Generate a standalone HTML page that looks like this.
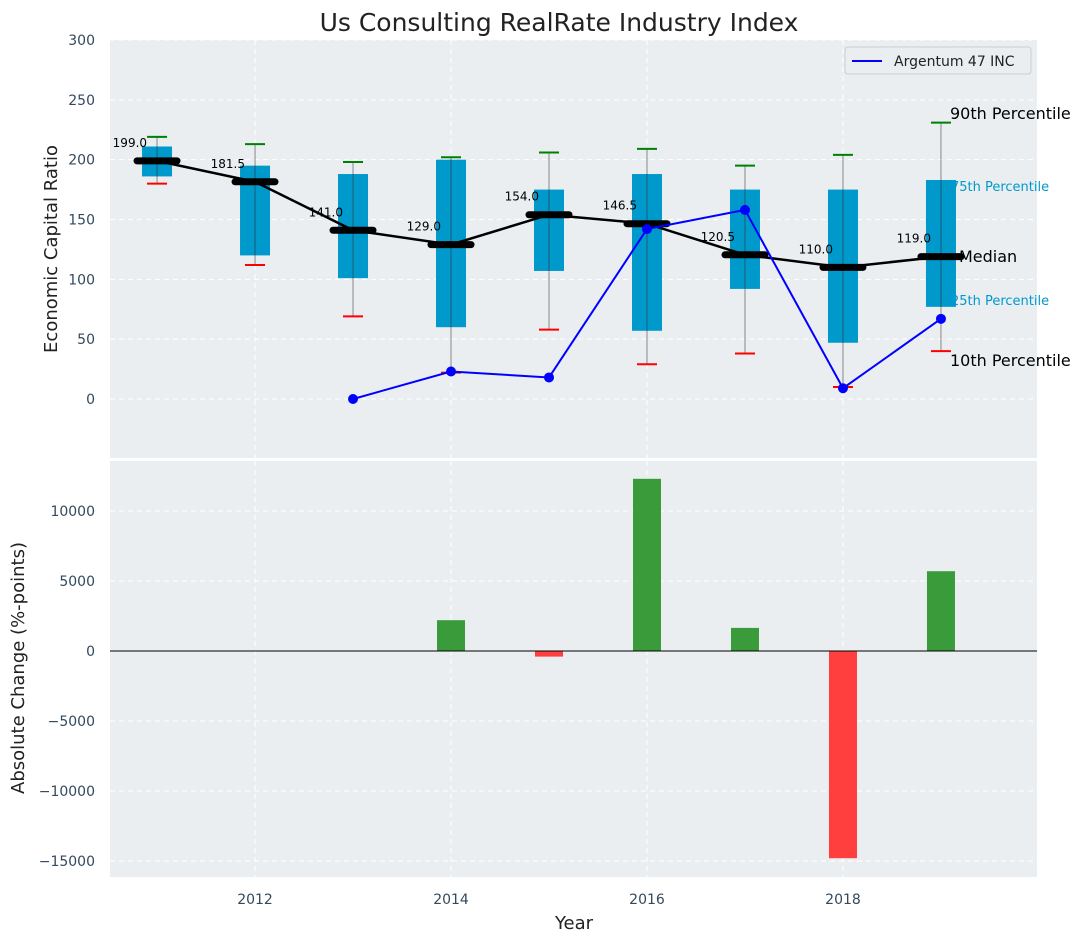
<!DOCTYPE html>
<html><head><meta charset="utf-8"><style>
body{margin:0;background:#fff;font-family:"Liberation Sans","DejaVu Sans",sans-serif;}
svg text{font-family:"DejaVu Sans","Liberation Sans",sans-serif;}
</style></head><body>
<svg id="c" width="1086" height="942" xmlns="http://www.w3.org/2000/svg"></svg>
<script>
const years=[2011,2012,2013,2014,2015,2016,2017,2018,2019];
const medians=[199,181.5,141,129,154,146.5,120.5,110,119];
const q1=[186,120,101,60,107,57,92,47,77];
const q3=[211,195,188,200,175,188,175,175,183];
const p10=[180,112,69,22,58,29,38,10,40];
const p90=[219,213,198,202,206,209,195,204,231];
const compYears=[2013,2014,2015,2016,2017,2018,2019];
const compVals=[0,23,18,142,158,9,67];
const chgYears=[2014,2015,2016,2017,2018,2019];
const chgVals=[2200,-400,12300,1650,-14800,5700];
const topTicks=[0,50,100,150,200,250,300];
const botTicks=[-15000,-10000,-5000,0,5000,10000];
const xTicks=[2012,2014,2016,2018];

const NS="http://www.w3.org/2000/svg",svg=document.getElementById('c');
function el(t,a,p){const e=document.createElementNS(NS,t);for(const k in a)e.setAttribute(k,a[k]);(p||svg).appendChild(e);return e;}
const L=110,R=1037;
const X=v=>L+(v-2010.52)*(R-L)/(2019.98-2010.52);
const T0=40,T1=458,Y=v=>399+(0-v)*(359/300);
const B0=461,B1=877,YB=v=>651-v*(140/10000);
const fmt=v=>v<0?'\u2212'+(-v):''+v;

let t=el('text',{x:559,y:31,'text-anchor':'middle','font-size':25,fill:'#222'});t.textContent='Us Consulting RealRate Industry Index';


let bg=el('rect',{x:L,y:T0,width:R-L,height:T1-T0,fill:'#eaeef0'});

let bg2=el('rect',{x:L,y:B0,width:R-L,height:B1-B0,fill:'#eaeef0'});


topTicks.forEach(v=>{el('line',{x1:L,x2:R,y1:Y(v),y2:Y(v),stroke:'#fff','stroke-dasharray':'5,4','stroke-width':1});
 const tx=el('text',{x:95,y:Y(v)+5,'text-anchor':'end','font-size':14,fill:'#34495e'});tx.textContent=fmt(v);
 });
botTicks.forEach(v=>{el('line',{x1:L,x2:R,y1:YB(v),y2:YB(v),stroke:'#fff','stroke-dasharray':'5,4','stroke-width':1});
 const tx=el('text',{x:95,y:YB(v)+5,'text-anchor':'end','font-size':14,fill:'#34495e'});tx.textContent=fmt(v);
 });
xTicks.forEach(v=>{el('line',{x1:X(v),x2:X(v),y1:T0,y2:T1,stroke:'#fff','stroke-dasharray':'5,4'});
 el('line',{x1:X(v),x2:X(v),y1:B0,y2:B1,stroke:'#fff','stroke-dasharray':'5,4'});
 const tx=el('text',{x:X(v),y:904,'text-anchor':'middle','font-size':14,fill:'#34495e'});tx.textContent=v;
 });

const li=years.length-1,lx=X(years[li])+9;
[['90th Percentile',lx,119,'#000',16],['75th Percentile',lx+1,191,'#0099cc',13],['Median',lx+9,262,'#000',16],['25th Percentile',lx+1,305,'#0099cc',13],['10th Percentile',lx,366,'#000',16]].forEach(a=>{
 const tx=el('text',{x:a[1],y:a[2],'font-size':a[4],fill:a[3]});
 tx.textContent=a[0];});

years.forEach((yr,i)=>{const cx=X(yr);
 const g=el('g',{});
 el('line',{x1:cx,x2:cx,y1:Y(p10[i]),y2:Y(p90[i]),stroke:'#888','stroke-width':1},g);
 el('rect',{x:cx-15,y:Y(q3[i]),width:30,height:Y(q1[i])-Y(q3[i]),fill:'#0099cc'},g);
 el('line',{x1:cx,x2:cx,y1:Y(q1[i]),y2:Y(q3[i]),stroke:'#333','stroke-opacity':0.6,'stroke-width':1},g);
 el('line',{x1:cx-10,x2:cx+10,y1:Y(p90[i]),y2:Y(p90[i]),stroke:'green','stroke-width':2},g);
 el('line',{x1:cx-10,x2:cx+10,y1:Y(p10[i]),y2:Y(p10[i]),stroke:'red','stroke-width':2},g);
});
let mp=el('polyline',{points:years.map((y,i)=>X(y)+','+Y(medians[i])).join(' '),fill:'none',stroke:'#000','stroke-width':2.5});

years.forEach((yr,i)=>{const cx=X(yr);
 const m=el('line',{x1:cx-20,x2:cx+20,y1:Y(medians[i]),y2:Y(medians[i]),stroke:'#000','stroke-width':7,'stroke-linecap':'round'});
 
 const tx=el('text',{x:cx-10,y:Y(medians[i])-14,'text-anchor':'end','font-size':12,fill:'#000'});tx.textContent=medians[i].toFixed(1);
 });
let cl=el('polyline',{points:compYears.map((y,i)=>X(y)+','+Y(compVals[i])).join(' '),fill:'none',stroke:'blue','stroke-width':2});

compYears.forEach((y,i)=>{const c=el('circle',{cx:X(y),cy:Y(compVals[i]),r:5,fill:'blue'});
 });

const lg=el('g',{});
el('rect',{x:845,y:47,width:186,height:27,rx:3,fill:'#eaeef0',stroke:'#ccc'},lg);
el('line',{x1:852,x2:882,y1:61,y2:61,stroke:'blue','stroke-width':2},lg);
let lt=el('text',{x:894,y:66,'font-size':14,fill:'#222'},lg);lt.textContent='Argentum 47 INC';

chgYears.forEach((y,i)=>{const v=chgVals[i];const b=el('rect',{x:X(y)-14,y:Math.min(YB(v),YB(0)),width:28,height:Math.abs(YB(v)-YB(0)),fill:v>=0?'#3a9b3a':'#ff3e3e'});
 });
el('line',{x1:L,x2:R,y1:YB(0),y2:YB(0),stroke:'#000','stroke-width':1});

let a1=el('text',{x:0,y:0,transform:'translate(57,249) rotate(-90)','text-anchor':'middle','font-size':18,fill:'#222'});a1.textContent='Economic Capital Ratio';

let a2=el('text',{x:0,y:0,transform:'translate(24,668) rotate(-90)','text-anchor':'middle','font-size':18,fill:'#222'});a2.textContent='Absolute Change (%-points)';

let a3=el('text',{x:574,y:929,'text-anchor':'middle','font-size':18,fill:'#222'});a3.textContent='Year';

</script>
</body></html>
